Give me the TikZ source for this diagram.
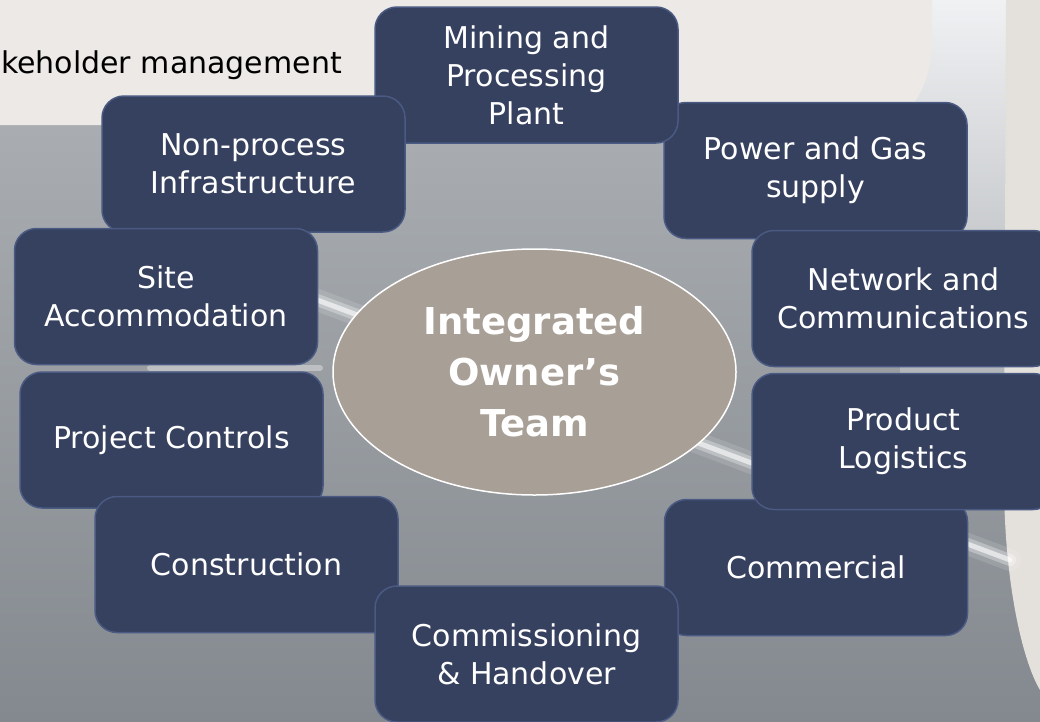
\documentclass[tikz,border=0pt]{standalone}
\usepackage{fontspec}
\setmainfont{DejaVu Sans}
\usetikzlibrary{shapes.geometric}
\definecolor{boxfill}{RGB}{54,64,95}
\definecolor{boxline}{RGB}{74,90,130}
\definecolor{ovalfill}{RGB}{168,159,150}
\definecolor{topbeige}{RGB}{236,233,230}
\definecolor{rightbeige}{RGB}{228,224,220}
\definecolor{whitish}{RGB}{240,241,243}
\definecolor{graytop}{RGB}{170,174,178}
\definecolor{graybot}{RGB}{132,137,143}
\begin{document}
\begin{tikzpicture}[x=1pt,y=-1pt,
  part/.style={draw=boxline, line width=1.5pt, fill=boxfill, rounded corners=22pt,
    minimum width=303pt, minimum height=136pt, text=white, align=center,
    font=\fontsize{30}{38}\selectfont, inner sep=0pt},
  hub/.style={ellipse, draw=white, line width=1.5pt, fill=ovalfill,
    minimum width=403pt, minimum height=246pt, text=white, align=center,
    font=\bfseries\fontsize{37}{51}\selectfont, inner sep=0pt},
  glow/.style={white, line cap=round}]
\useasboundingbox (0,0) rectangle (1040,721);
% background
\shade[top color=graytop, bottom color=graybot] (0,110) rectangle (1040,721);
\shade[top color=whitish, bottom color=graytop] (900,0) rectangle (1010,420);
\fill[topbeige] (0,0) -- (932,0) -- (932,40) .. controls (932,80) and (915,118) .. (880,125) -- (0,125) -- cycle;
\fill[rightbeige] (1006,0) -- (1040,0) -- (1040,690) .. controls (1022,660) and (1004,580) .. (1004,480) -- cycle;
% light streaks
\draw[glow, line width=22pt, opacity=0.12] (280,286) -- (1010,560);
\draw[glow, line width=12pt, opacity=0.3] (280,286) -- (1010,560);
\draw[glow, line width=5pt, opacity=0.6] (280,286) -- (1010,560);
\draw[glow, line width=6pt, opacity=0.35] (150,368) -- (320,368);
% title fragment
\node[anchor=base east, font=\fontsize{30}{36}\selectfont, text=black, inner sep=0pt] (stake) at (342,73) {keholder management};
% boxes (drawing order gives the overlaps)
\node[part] (power) at (815.5,170.5) {Power and Gas\\supply};
\node[part] (mining) at (526.5,75) {Mining and\\Processing\\Plant};
\node[part] (nonproc) at (253.5,164) {Non-process\\Infrastructure};
\node[part] (site) at (166,296.5) {Site\\Accommodation};
\node[part] (controls) at (171.5,440) {Project Controls};
\node[part] (constr) at (246.5,564.5) {Construction};
\node[part] (commercial) at (816,567.5) {Commercial};
\node[part] (commiss) at (526.5,654) {Commissioning\\\& Handover};
\node[part] (product) at (903.5,441.5) {Product\\Logistics};
\node[part] (network) at (903.5,298.5) {Network and\\Communications};
% hub
\node[hub] (team) at (534.5,372) {Integrated\\Owner’s\\Team};
\end{tikzpicture}
\end{document}
